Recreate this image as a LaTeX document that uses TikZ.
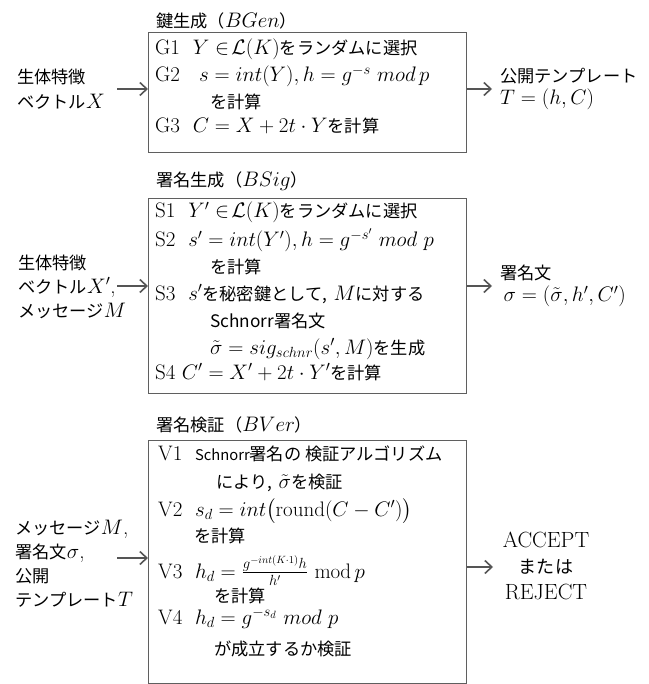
\RequirePackage{fix-cm}
\documentclass[tikz,border=0pt]{standalone}
\usepackage{amsmath}
\usepackage{fontspec}
\usepackage{tikz}
\usetikzlibrary{arrows.meta}
\newfontfamily\jp[Scale=0.82]{Noto Sans CJK JP}
\definecolor{boxgray}{HTML}{5F5F5F}
\definecolor{arrgray}{HTML}{555555}
\tikzset{>={Straight Barb[length=7pt,width=13pt]}}
\tikzset{
  blk/.style={draw=boxgray, line width=1pt, inner sep=0pt, anchor=north west},
  ln/.style={anchor=west, inner sep=0pt, text height=15pt, text depth=5pt},
  lbl/.style={anchor=west, inner sep=0pt, align=left},
  flow/.style={->, draw=arrgray, line width=1.6pt},
}

\begin{document}
\begin{tikzpicture}[x=1pt,y=-1pt,font=\fontsize{21}{25}\selectfont]
  \useasboundingbox (0,0) rectangle (648,684);
  % titles
  \node[lbl] (tG) at (156,21) {{\jp 鍵生成（}$BGen${\jp ）}};
  \node[lbl] (tS) at (156,181) {{\jp 署名生成（}$BSig${\jp ）}};
  \node[lbl] (tV) at (156,425) {{\jp 署名検証（}$BVer${\jp ）}};
  % boxes
  \node[blk, minimum width=318pt, minimum height=120pt] (boxG) at (148,32) {};
  \node[blk, minimum width=318pt, minimum height=195pt] (boxS) at (148,198) {};
  \node[blk, minimum width=318pt, minimum height=243pt] (boxV) at (148,440) {};
  % key generation
  \node[ln] (g1) at (155,50) {G1\ \ $Y\in\!\mathcal{L}(K)${\jp をランダムに選択}};
  \node[ln] (g2) at (155,77) {G2\ \ \ $s = int(Y), h = g^{-s}\ mod\,p$};
  \node[ln] (g2b) at (210,104) {\jp を計算};
  \node[ln] (g3) at (155,128) {G3\ \ $C = X + 2t\cdot Y${\jp を計算}};
  % signing
  \node[ln] (s1) at (155,213) {S1\ \ $Y'\in\!\mathcal{L}(K)${\jp をランダムに選択}};
  \node[ln] (s2) at (155,242) {S2\ \ $s' = int(Y'), h = g^{-s'}\ mod\ p$};
  \node[ln] (s2b) at (210,268) {\jp を計算};
  \node[ln] (s3) at (155,295) {S3\ \ $s'${\jp を秘密鍵として,} $M${\jp に対する}};
  \node[ln] (s3b) at (210,322) {\jp Schnorr署名文};
  \node[ln] (s3c) at (210,349) {$\tilde\sigma = sig_{schnr}(s', M)${\jp を生成}};
  \node[ln] (s4) at (155,374) {S4 $C' = X' + 2t\cdot Y'${\jp を計算}};
  % verification
  \node[ln] (v1) at (158,455) {V1\ \ {\jp{\fontsize{18}{18}\selectfont Schnorr}署名の 検証アルゴリズム}};
  \node[ln] (v1b) at (216,483) {{\jp により,} $\tilde\sigma${\jp を検証}};
  \node[ln] (v2) at (158,511) {V2\ \ $s_d = int\bigl(\mathrm{round}(C - C')\bigr)$};
  \node[ln] (v2b) at (194,537) {\jp を計算};
  \node[ln] (v3) at (158,573) {V3\ \ $h_d = \frac{g^{-int(K\cdot 1)}h}{h'}\ \mathrm{mod}\,p$};
  \node[ln] (v3b) at (214,597) {\jp を計算};
  \node[ln] (v4) at (158,619) {V4\ \ $h_d = g^{-s_d}\ mod\ p$};
  \node[ln] (v4b) at (214,650) {\jp が成立するか検証};
  % inputs
  \node[lbl] (inG) at (17,89.5) {{\jp 生体特徴}\\{\jp ベクトル}$X$};
  \node[lbl] (inS) at (18,286.5) {{\jp 生体特徴}\\[-1pt]{\jp ベクトル}$X'$,\\[-1pt]{\jp メッセージ}$M$};
  \node[lbl] (inV) at (15,564) {{\jp メッセージ}$M$,\\[-1pt]{\jp 署名文}$\sigma$,\\[-1pt]{\jp 公開}\\[-1pt]{\jp テンプレート}$T$};
  % outputs
  \node[lbl] (outG) at (500,89) {{\jp 公開テンプレート}\\[-3pt]$T = (h, C)$};
  \node[lbl] (outS) at (500,286) {{\jp 署名文}\\[-3pt]\,$\sigma = (\tilde\sigma, h', C')$};
  \node[lbl, align=center, anchor=center, font=\fontsize{22}{26}\selectfont] (outV) at (546,566) {ACCEPT\\{\jp または}\\REJECT};
  % arrows
  \coordinate (gL) at (117,89);
  \coordinate (gR) at (492,89);
  \coordinate (sL) at (117,286);
  \coordinate (sR) at (492,286);
  \coordinate (vL) at (117,558);
  \coordinate (vR) at (493,567);
  \draw[flow] (gL) -- (gL -| boxG.west);
  \draw[flow] (boxG.east |- gR) -- (gR);
  \draw[flow] (sL) -- (sL -| boxS.west);
  \draw[flow] (boxS.east |- sR) -- (sR);
  \draw[flow] (vL) -- (vL -| boxV.west);
  \draw[flow] (boxV.east |- vR) -- (vR);
\end{tikzpicture}
\end{document}
